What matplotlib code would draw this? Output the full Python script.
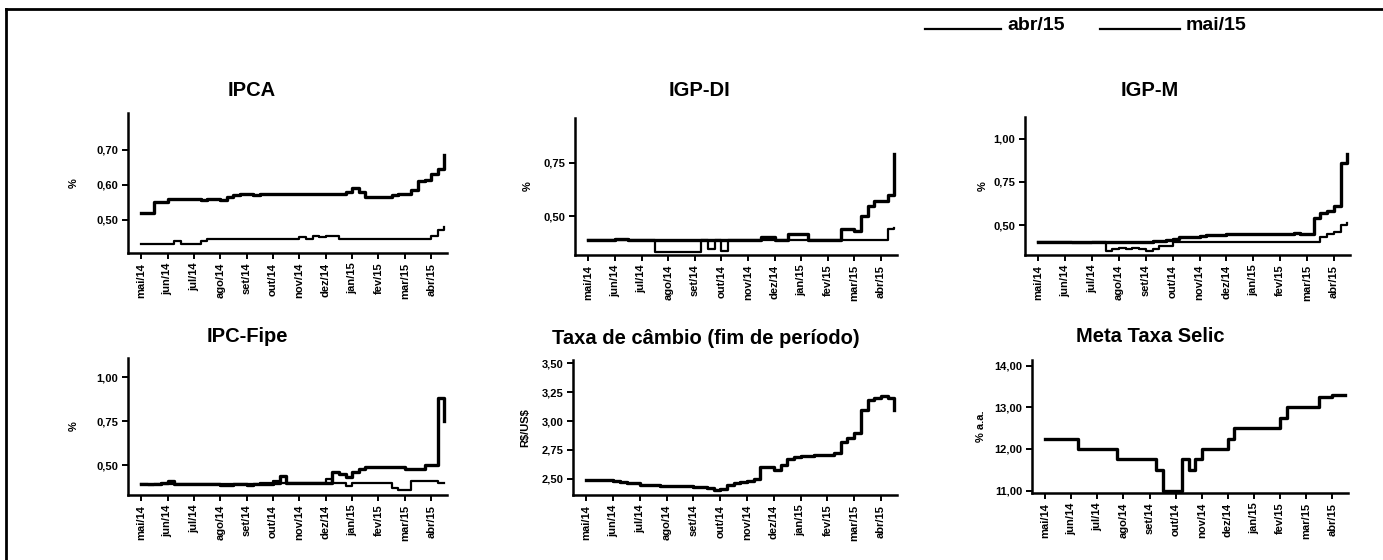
import matplotlib
matplotlib.use("Agg")
import matplotlib.pyplot as plt
import numpy as np
from matplotlib.lines import Line2D

plt.rcParams['font.family'] = ['Liberation Sans', 'DejaVu Sans']

meses = ['mai/14', 'jun/14', 'jul/14', 'ago/14', 'set/14', 'out/14',
         'nov/14', 'dez/14', 'jan/15', 'fev/15', 'mar/15', 'abr/15']
rotulos_legenda = ['abr/15', 'mai/15']

# valores semanais (4 por mes, ultimo mes ate a metade)
ipca_abr = [0.52, 0.52, 0.55, 0.55, 0.56, 0.56, 0.56, 0.56, 0.56, 0.555, 0.56, 0.56,
            0.555, 0.565, 0.57, 0.575, 0.575, 0.57, 0.575, 0.575, 0.575, 0.575, 0.575, 0.575,
            0.575, 0.575, 0.575, 0.575, 0.575, 0.575, 0.575, 0.58, 0.59, 0.58, 0.565, 0.565,
            0.565, 0.565, 0.57, 0.575, 0.575, 0.585, 0.61, 0.615, 0.63, 0.645, 0.685]
ipca_mai = [0.43, 0.43, 0.43, 0.43, 0.43, 0.44, 0.43, 0.43, 0.43, 0.44, 0.445, 0.445,
            0.445, 0.445, 0.445, 0.445, 0.445, 0.445, 0.445, 0.445, 0.445, 0.445, 0.445, 0.445,
            0.45, 0.445, 0.455, 0.45, 0.455, 0.455, 0.445, 0.445, 0.445, 0.445, 0.445, 0.445,
            0.445, 0.445, 0.445, 0.445, 0.445, 0.445, 0.445, 0.445, 0.455, 0.47, 0.48]

igpdi_abr = [0.39, 0.39, 0.39, 0.39, 0.395, 0.395, 0.39, 0.39, 0.39, 0.39, 0.39, 0.39,
             0.39, 0.39, 0.39, 0.39, 0.39, 0.39, 0.39, 0.39, 0.39, 0.39, 0.39, 0.39,
             0.39, 0.39, 0.405, 0.405, 0.39, 0.39, 0.42, 0.42, 0.42, 0.39, 0.39, 0.39,
             0.39, 0.39, 0.44, 0.44, 0.43, 0.50, 0.55, 0.57, 0.57, 0.60, 0.79]
igpdi_mai = [0.39, 0.39, 0.39, 0.39, 0.39, 0.39, 0.39, 0.39, 0.39, 0.39, 0.335, 0.335,
             0.335, 0.335, 0.335, 0.335, 0.335, 0.39, 0.35, 0.39, 0.34, 0.39, 0.39, 0.39,
             0.39, 0.39, 0.39, 0.39, 0.39, 0.39, 0.39, 0.39, 0.39, 0.39, 0.39, 0.39,
             0.39, 0.39, 0.39, 0.39, 0.39, 0.39, 0.39, 0.39, 0.39, 0.44, 0.445]

igpm_abr = [0.40, 0.40, 0.40, 0.40, 0.40, 0.40, 0.40, 0.40, 0.40, 0.40, 0.40, 0.40,
            0.40, 0.40, 0.40, 0.40, 0.40, 0.41, 0.41, 0.415, 0.42, 0.43, 0.43, 0.43,
            0.435, 0.44, 0.44, 0.445, 0.45, 0.45, 0.45, 0.45, 0.45, 0.45, 0.45, 0.45,
            0.45, 0.45, 0.455, 0.45, 0.45, 0.54, 0.57, 0.58, 0.61, 0.86, 0.91]
igpm_mai = [0.40, 0.40, 0.40, 0.40, 0.40, 0.395, 0.395, 0.395, 0.40, 0.40, 0.35, 0.36,
            0.37, 0.36, 0.37, 0.36, 0.35, 0.36, 0.38, 0.38, 0.40, 0.40, 0.40, 0.40,
            0.40, 0.40, 0.40, 0.40, 0.40, 0.40, 0.40, 0.40, 0.40, 0.40, 0.40, 0.40,
            0.40, 0.40, 0.40, 0.40, 0.40, 0.40, 0.43, 0.45, 0.46, 0.50, 0.51]

fipe_abr = [0.39, 0.39, 0.39, 0.40, 0.41, 0.395, 0.395, 0.39, 0.39, 0.39, 0.39, 0.39,
            0.385, 0.385, 0.39, 0.39, 0.385, 0.39, 0.39, 0.39, 0.40, 0.44, 0.40, 0.40,
            0.40, 0.40, 0.40, 0.40, 0.40, 0.46, 0.45, 0.43, 0.46, 0.48, 0.49, 0.49,
            0.49, 0.49, 0.49, 0.49, 0.48, 0.48, 0.48, 0.50, 0.50, 0.88, 0.75]
fipe_mai = [0.39, 0.385, 0.39, 0.39, 0.39, 0.39, 0.39, 0.39, 0.39, 0.39, 0.39, 0.39,
            0.39, 0.39, 0.39, 0.39, 0.39, 0.39, 0.40, 0.40, 0.41, 0.40, 0.40, 0.40,
            0.40, 0.40, 0.40, 0.40, 0.42, 0.40, 0.40, 0.38, 0.40, 0.40, 0.40, 0.40,
            0.40, 0.40, 0.37, 0.36, 0.36, 0.41, 0.41, 0.41, 0.41, 0.40, 0.40]

cambio = [2.49, 2.49, 2.49, 2.49, 2.48, 2.47, 2.46, 2.46, 2.45, 2.45, 2.45, 2.44,
          2.44, 2.44, 2.44, 2.44, 2.43, 2.43, 2.42, 2.40, 2.41, 2.45, 2.46, 2.47,
          2.48, 2.50, 2.60, 2.60, 2.58, 2.62, 2.67, 2.69, 2.70, 2.70, 2.71, 2.71,
          2.71, 2.72, 2.82, 2.85, 2.90, 3.10, 3.18, 3.20, 3.22, 3.20, 3.10]

selic = [12.25, 12.25, 12.25, 12.25, 12.25, 12.0, 12.0, 12.0, 12.0, 12.0, 12.0, 11.75,
         11.75, 11.75, 11.75, 11.75, 11.75, 11.5, 11.0, 11.0, 11.0, 11.75, 11.5, 11.75,
         12.0, 12.0, 12.0, 12.0, 12.25, 12.5, 12.5, 12.5, 12.5, 12.5, 12.5, 12.5,
         12.75, 13.0, 13.0, 13.0, 13.0, 13.0, 13.25, 13.25, 13.3, 13.3, 13.3]

W, H = 1383, 560
x = np.arange(len(selic)) / 4.0

fig = plt.figure(figsize=(W / 100, H / 100), dpi=100)


def caixa(x0, y0, x1, y1):
    return [x0 / W, 1 - y1 / H, (x1 - x0) / W, (y1 - y0) / H]


paineis = [
    # titulo, caixa px, centro titulo px, series, ylim, yticks, rotulos, ylabel, pad
    ("IPCA", (128, 113, 447, 253), (252, 90), [ipca_abr, ipca_mai],
     (0.405, 0.805), [0.50, 0.60, 0.70], ["0,50", "0,60", "0,70"], "%", 13),
    ("IGP-DI", (575, 118, 897, 255), (700, 90), [igpdi_abr, igpdi_mai],
     (0.32, 0.96), [0.50, 0.75], ["0,50", "0,75"], "%", 8),
    ("IGP-M", (1025, 117, 1350, 255), (1150, 90), [igpm_abr, igpm_mai],
     (0.327, 1.125), [0.50, 0.75, 1.00], ["0,50", "0,75", "1,00"], "%", 4),
    ("IPC-Fipe", (128, 358, 447, 495), (247, 337), [fipe_abr, fipe_mai],
     (0.33, 1.11), [0.50, 0.75, 1.00], ["0,50", "0,75", "1,00"], "%", 13),
    ("Taxa de câmbio (fim de período)", (573, 360, 897, 495), (706, 338), [cambio],
     (2.36, 3.53), [2.50, 2.75, 3.00, 3.25, 3.50], ["2,50", "2,75", "3,00", "3,25", "3,50"],
     r"R\$/US\$", 8),
    ("Meta Taxa Selic", (1032, 360, 1348, 493), (1150, 336), [selic],
     (10.94, 14.14), [11, 12, 13, 14], ["11,00", "12,00", "13,00", "14,00"], "% a.a.", 6),
]

larguras = [2.4, 1.6]

for titulo, cx, tc, series, ylim, yt, ytl, ylab, pad in paineis:
    ax = fig.add_axes(caixa(*cx))
    for s, lw in zip(series, larguras):
        ax.plot(x, s, color="black", lw=lw, drawstyle="steps-post")
    ax.set_xlim(-0.5, 11.6)
    ax.set_ylim(*ylim)
    ax.set_xticks(range(len(meses)))
    ax.set_xticklabels(meses, rotation=90, fontsize=8, fontweight="bold")
    ax.set_yticks(yt)
    ax.set_yticklabels(ytl, fontsize=8, fontweight="bold")
    ax.set_ylabel(ylab, fontsize=8, fontweight="bold", labelpad=pad)
    for lado in ["top", "right"]:
        ax.spines[lado].set_visible(False)
    for lado in ["left", "bottom"]:
        ax.spines[lado].set_linewidth(1.8)
    ax.tick_params(length=4, width=1.4, pad=3)
    fig.text(tc[0] / W, 1 - tc[1] / H, titulo, ha="center", va="center",
             fontsize=14.5, fontweight="bold")

# legenda: traco na linha de base do texto, como no original
for (x0, x1), rotulo in zip([(925, 1001), (1100, 1180)], rotulos_legenda):
    fig.add_artist(Line2D([x0 / W, x1 / W], [1 - 29 / H, 1 - 29 / H], transform=fig.transFigure,
                          color="black", lw=1.6))
    fig.text((x1 + 6) / W, 1 - 30 / H, rotulo, ha="left", va="baseline",
             fontsize=14, fontweight="bold")

# moldura do documento (linha superior e lateral esquerda)
fig.add_artist(Line2D([6 / W, 1], [1 - 9 / H, 1 - 9 / H], transform=fig.transFigure,
                      color="black", lw=2))
fig.add_artist(Line2D([6 / W, 6 / W], [0, 1 - 9 / H], transform=fig.transFigure,
                      color="black", lw=2))

fig.savefig("out.png", dpi=100)
